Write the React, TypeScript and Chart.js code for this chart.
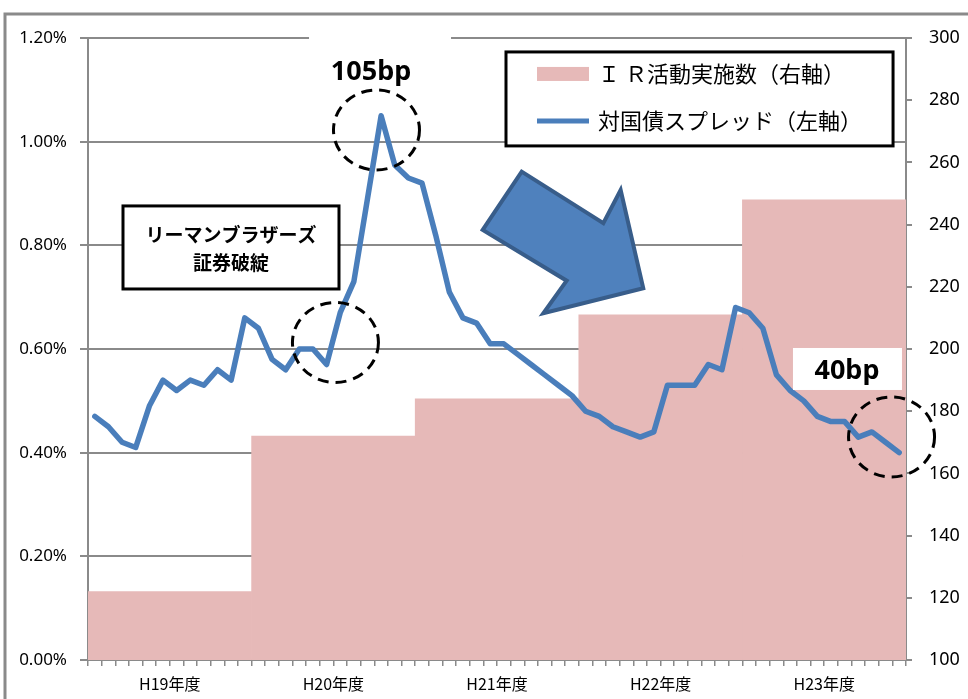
import React, { useEffect, useRef } from 'react';
import { Chart, registerables } from 'chart.js';

Chart.register(...registerables);

// ---- data ----
const years = ['H19年度', 'H20年度', 'H21年度', 'H22年度', 'H23年度'];
const irCounts = [122, 172, 184, 211, 248];
const spreadPct = [
  0.47, 0.45, 0.42, 0.41, 0.49, 0.54, 0.52, 0.54, 0.53, 0.56, 0.54, 0.66,
  0.64, 0.58, 0.56, 0.60, 0.60, 0.57, 0.67, 0.73, 0.89, 1.05, 0.955, 0.93,
  0.92, 0.82, 0.71, 0.66, 0.65, 0.61, 0.61, 0.59, 0.57, 0.55, 0.53, 0.51,
  0.48, 0.47, 0.45, 0.44, 0.43, 0.44, 0.53, 0.53, 0.53, 0.57, 0.56, 0.68,
  0.67, 0.64, 0.55, 0.52, 0.50, 0.47, 0.46, 0.46, 0.43, 0.44, 0.42, 0.40,
];
const leftTicksMax = 1.2;
const rightMin = 100;
const rightMax = 300;
const barLabel = 'Ｉ Ｒ活動実施数（右軸）';
const lineLabel = '対国債スプレッド（左軸）';

const GRAY = '#8a8a8a';
const PINK = '#e6b9b8';
const BLUE = '#4a7ebb';
const FONT = "'Noto Sans', 'Noto Sans CJK JP', sans-serif";
const JFONT = "'Noto Sans CJK JP', 'Noto Sans', sans-serif";

// annotation anchors in data units (x: months, y: percent)
const circles = [
  { x: 21.16, y: 1.0226 },
  { x: 18.15, y: 0.6126 },
  { x: 58.94, y: 0.4303 },
];
const peakNote = { text: '105bp', x: 20.76, y: 1.1345 };
const endNote = { text: '40bp', x: 55.67, y: 0.5576 };
const lehman = { x0: 2.567, x1: 18.41, yTop: 0.876, yBot: 0.7158, lines: ['リーマンブラザーズ', '証券破綻'] };
const arrowPts = [
  [31.81, 0.9421], [37.8, 0.8426], [39.07, 0.9068], [40.73, 0.7172],
  [33.4, 0.6689], [35.11, 0.7318], [28.95, 0.8296],
];
const legendBox = { x0: 30.66, x1: 59.05, yTop: 1.1731, yBot: 0.9918 };

const annotPlugin = {
  id: 'annot',
  beforeDraw(chart: any) {
    const ctx = chart.ctx;
    ctx.save();
    ctx.strokeStyle = GRAY;
    ctx.lineWidth = 3;
    ctx.beginPath();
    ctx.moveTo(5, chart.height + 5);
    ctx.lineTo(5, 14);
    ctx.lineTo(chart.width + 5, 14);
    ctx.stroke();
    ctx.restore();
  },
  afterDatasetsDraw(chart: any) {
    const ctx = chart.ctx;
    const sx = chart.scales.x;
    const sy = chart.scales.y;
    const px = (v: number) => sx.getPixelForValue(v);
    const py = (v: number) => sy.getPixelForValue(v);
    ctx.save();

    // 105bp label
    {
      const cx = px(peakNote.x);
      const cy = py(peakNote.y);
      ctx.fillStyle = '#fff';
      ctx.fillRect(cx - 62, cy - 38, 142, 56);
      ctx.fillStyle = '#000';
      ctx.font = `bold 27px ${FONT}`;
      ctx.textAlign = 'center';
      ctx.textBaseline = 'middle';
      ctx.fillText(peakNote.text, cx, cy);
    }
    // 40bp label
    {
      const cx = px(endNote.x);
      const cy = py(endNote.y);
      ctx.fillStyle = '#fff';
      ctx.fillRect(cx - 54, cy - 23, 109, 42);
      ctx.fillStyle = '#000';
      ctx.font = `bold 27px ${FONT}`;
      ctx.textAlign = 'center';
      ctx.textBaseline = 'middle';
      ctx.fillText(endNote.text, cx, cy);
    }
    // Lehman box
    {
      const x0 = px(lehman.x0), x1 = px(lehman.x1), y0 = py(lehman.yTop), y1 = py(lehman.yBot);
      ctx.fillStyle = '#fff';
      ctx.fillRect(x0, y0, x1 - x0, y1 - y0);
      ctx.strokeStyle = '#000';
      ctx.lineWidth = 3;
      ctx.strokeRect(x0, y0, x1 - x0, y1 - y0);
      ctx.fillStyle = '#000';
      ctx.font = `bold 19px ${JFONT}`;
      ctx.textAlign = 'center';
      ctx.textBaseline = 'middle';
      const cx = (x0 + x1) / 2;
      const cy = (y0 + y1) / 2;
      ctx.fillText(lehman.lines[0], cx, cy - 13);
      ctx.fillText(lehman.lines[1], cx, cy + 15);
    }
    // Arrow
    {
      ctx.beginPath();
      arrowPts.forEach((p, i) => {
        const X = px(p[0]);
        const Y = py(p[1]);
        if (i === 0) ctx.moveTo(X, Y);
        else ctx.lineTo(X, Y);
      });
      ctx.closePath();
      ctx.fillStyle = '#4f81bd';
      ctx.fill();
      ctx.strokeStyle = '#385d8a';
      ctx.lineWidth = 4;
      ctx.lineJoin = 'miter';
      ctx.stroke();
    }
    // dashed circles
    ctx.strokeStyle = '#000';
    ctx.lineWidth = 3;
    ctx.setLineDash([11, 7]);
    circles.forEach((c) => {
      ctx.beginPath();
      ctx.ellipse(px(c.x), py(c.y), 43, 40, 0, 0, Math.PI * 2);
      ctx.stroke();
    });
    ctx.setLineDash([]);

    // Legend
    {
      const x0 = px(legendBox.x0), x1 = px(legendBox.x1), y0 = py(legendBox.yTop), y1 = py(legendBox.yBot);
      ctx.fillStyle = '#fff';
      ctx.fillRect(x0, y0, x1 - x0, y1 - y0);
      ctx.strokeStyle = '#000';
      ctx.lineWidth = 3;
      ctx.strokeRect(x0, y0, x1 - x0, y1 - y0);
      const r1 = y0 + 22;
      const r2 = y0 + 69;
      ctx.fillStyle = PINK;
      ctx.fillRect(x0 + 31, r1 - 7, 52, 14);
      ctx.strokeStyle = BLUE;
      ctx.lineWidth = 5;
      ctx.beginPath();
      ctx.moveTo(x0 + 31, r2);
      ctx.lineTo(x0 + 83, r2);
      ctx.stroke();
      ctx.fillStyle = '#000';
      ctx.font = `22px ${JFONT}`;
      ctx.textAlign = 'left';
      ctx.textBaseline = 'middle';
      const ds = chart.data.datasets;
      ctx.fillText(ds[1].label, x0 + 92, r1);
      ctx.fillText(ds[0].label, x0 + 92, r2);
    }
    ctx.restore();
  },
};

export default function App() {
  const ref = useRef<HTMLCanvasElement | null>(null);
  useEffect(() => {
    if (!ref.current) return;
    const chart = new Chart(ref.current, {
      type: 'line',
      data: {
        datasets: [
          {
            type: 'line',
            label: lineLabel,
            data: spreadPct.map((v, i) => ({ x: i + 0.5, y: v })),
            xAxisID: 'x',
            yAxisID: 'y',
            borderColor: BLUE,
            borderWidth: 5.5,
            pointRadius: 0,
            fill: false,
            tension: 0,
            borderJoinStyle: 'round',
            borderCapStyle: 'round',
            order: 1,
          } as any,
          {
            type: 'bar',
            label: barLabel,
            data: irCounts,
            xAxisID: 'xb',
            yAxisID: 'y1',
            backgroundColor: PINK,
            borderWidth: 0,
            barPercentage: 1,
            categoryPercentage: 1,
            grouped: false,
            order: 2,
          } as any,
        ],
      },
      options: {
        animation: false,
        responsive: false,
        devicePixelRatio: 1,
        layout: { padding: { top: 38, left: 0, right: 0, bottom: 0 } },
        plugins: { legend: { display: false }, tooltip: { enabled: false } },
        scales: {
          x: {
            type: 'linear',
            position: 'bottom',
            min: 0,
            max: years.length * 12,
            offset: false,
            afterFit: (s: any) => { s.height = 39; },
            ticks: {
              stepSize: 1,
              autoSkip: false,
              maxRotation: 0,
              minRotation: 0,
              padding: 8,
              color: '#000',
              font: { family: JFONT, size: 16 },
              callback: (v: any) => {
                const n = Math.round(Number(v));
                return n % 12 === 6 ? years[(n - 6) / 12] : '';
              },
            },
            grid: { drawOnChartArea: false, drawTicks: true, tickLength: 6, color: GRAY, lineWidth: 1.5 },
            border: { display: true, color: GRAY, width: 2 },
          },
          xb: {
            type: 'category',
            labels: years,
            offset: true,
            display: false,
          },
          y: {
            type: 'linear',
            position: 'left',
            min: 0,
            max: leftTicksMax,
            afterFit: (s: any) => { s.width = 88; },
            ticks: {
              stepSize: 0.2,
              padding: 13,
              color: '#000',
              font: { family: FONT, size: 17 },
              callback: (v: any) => Number(v).toFixed(2) + '%',
            },
            grid: { color: GRAY, lineWidth: 2, tickLength: 8 },
            border: { display: true, color: GRAY, width: 2 },
          },
          y1: {
            type: 'linear',
            position: 'right',
            min: rightMin,
            max: rightMax,
            afterFit: (s: any) => { s.width = 62; },
            ticks: {
              stepSize: 20,
              padding: 17,
              color: '#000',
              font: { family: FONT, size: 18 },
            },
            grid: { drawOnChartArea: false, color: GRAY, lineWidth: 2, tickLength: 6 },
            border: { display: true, color: GRAY, width: 2 },
          },
        },
      } as any,
      plugins: [annotPlugin],
    });
    return () => chart.destroy();
  }, []);
  return (
    <div style={{ position: 'absolute', left: 0, top: 0, width: 968, height: 699, background: '#fff' }}>
      <canvas ref={ref} width={968} height={699} style={{ display: 'block' }} />
    </div>
  );
}
